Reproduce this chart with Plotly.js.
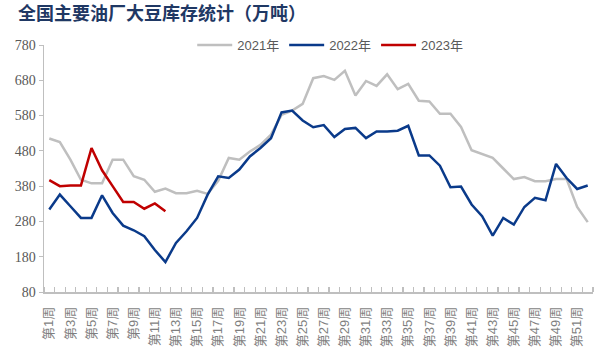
<!DOCTYPE html>
<html>
<head>
<meta charset="utf-8">
<script src="https://cdn.plot.ly/plotly-3.0.1.min.js"></script>
<style>html,body{margin:0;padding:0;background:#fff;}#chart{width:603px;height:357px;}</style>
</head>
<body>
<div id="chart"></div>
<script>
const weeks = [1,2,3,4,5,6,7,8,9,10,11,12,13,14,15,16,17,18,19,20,21,22,23,24,25,26,27,28,29,30,31,32,33,34,35,36,37,38,39,40,41,42,43,44,45,46,47,48,49,50,51,52];
const tickWeeks = [1,3,5,7,9,11,13,15,17,19,21,23,25,27,29,31,33,35,37,39,41,43,45,47,49,51];
const tickLabels = ['第1周','第3周','第5周','第7周','第9周','第11周','第13周','第15周','第17周','第19周','第21周','第23周','第25周','第27周','第29周','第31周','第33周','第35周','第37周','第39周','第41周','第43周','第45周','第47周','第49周','第51周'];
const seriesNames = ['2021年','2022年','2023年'];
const y2021 = [515,505,455,398,388,388,455,455,408,398,364,373,360,360,367,358,395,460,455,478,497,526,582,594,613,686,692,681,707,637,678,664,697,655,670,622,620,585,585,548,482,471,460,430,400,406,394,394,400,400,321,278];
const y2022 = [314,356,323,290,290,354,304,268,255,238,199,165,219,252,290,356,408,403,427,464,488,516,589,594,566,547,553,519,542,545,516,535,535,537,551,467,467,438,377,379,328,295,240,290,271,321,347,340,443,403,372,382];
const y2023 = [397,380,382,382,488,425,380,335,335,316,331,309];
const colors = ['#bfbfbf','#0a3a8a','#c00000'];

const traces = [y2021, y2022, y2023].map((ys, i) => ({
  type: 'scatter', mode: 'lines',
  x: weeks.slice(0, ys.length), y: ys,
  name: seriesNames[i],
  line: {color: colors[i], width: 2.5},
  hoverinfo: 'skip'
}));

const layout = {
  width: 603, height: 357,
  margin: {l: 44, r: 10, t: 45, b: 65},
  paper_bgcolor: '#fff', plot_bgcolor: '#fff',
  showlegend: true,
  title: {
    text: '<b>全国主要油厂大豆库存统计（万吨）</b>',
    xref: 'container', yref: 'container',
    x: 0.03, xanchor: 'left', y: 0.961, yanchor: 'middle',
    font: {family: 'Noto Sans CJK SC', size: 18, color: '#1f3864'}
  },
  legend: {
    orientation: 'h', x: 0.27, xanchor: 'left', y: 1.0, yanchor: 'middle',
    font: {family: 'Liberation Sans, Noto Sans CJK SC', size: 13, color: '#595959'},
    bgcolor: 'rgba(0,0,0,0)', itemwidth: 35, tracegroupgap: 0
  },
  xaxis: {
    type: 'linear', range: [0.5, 52.5],
    tickmode: 'array', tickvals: tickWeeks, ticktext: tickLabels,
    tickangle: -90, ticks: '', ticklabelstandoff: 8,
    tickfont: {family: 'Liberation Sans, Noto Sans CJK SC', size: 13, color: '#7f7f7f'},
    showline: true, linecolor: '#bfbfbf', linewidth: 1.5,
    showgrid: false, zeroline: false,
    minor: {tickmode: 'linear', tick0: 0.5, dtick: 1, ticks: 'inside', ticklen: 5, tickcolor: '#bfbfbf', tickwidth: 1.2, showgrid: false}
  },
  yaxis: {
    range: [80, 780], tickmode: 'linear', tick0: 80, dtick: 100,
    ticks: 'outside', ticklen: 4, tickcolor: '#bfbfbf',
    tickfont: {family: 'Liberation Serif', size: 14, color: '#595959'},
    showline: true, linecolor: '#bfbfbf', linewidth: 1.5,
    showgrid: false, zeroline: false
  }
};

Plotly.newPlot('chart', traces, layout, {displayModeBar: false, staticPlot: true});
</script>
</body>
</html>
